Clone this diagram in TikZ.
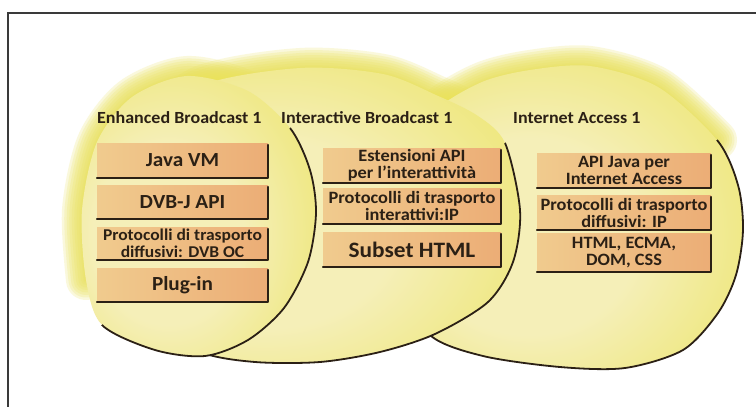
\documentclass[tikz,border=0pt]{standalone}
\usepackage{fontspec}
\setmainfont{Carlito}[FakeStretch=1.06]
\usetikzlibrary{calc}

\definecolor{ink}{HTML}{2B2015}
\definecolor{frameC}{HTML}{3A3A3A}
\definecolor{paleY}{HTML}{F5EFB8}
\definecolor{deepY}{HTML}{EAE257}
\definecolor{glowY}{HTML}{EAE25C}
\definecolor{boxL}{HTML}{F0CB8E}
\definecolor{boxR}{HTML}{ECAD76}

\pgfdeclareradialshading{blobfill}{\pgfpoint{-8bp}{-4bp}}{%
  color(0bp)=(paleY); color(16bp)=(paleY); color(44bp)=(deepY); color(80bp)=(deepY)}

% outlines of the three profile regions (x right, y down, in px)
\def\shapeL{plot[smooth cycle] coordinates {(187,76) (248,91) (290,128) (310,170) (316,213) (308,262) (284,308) (248,340) (205,356) (155,350) (102,325) (86,280) (82,210) (97,142) (132,97)}}
\def\shapeM{plot[smooth cycle] coordinates {(300,68) (383,74) (436,95) (478,116) (505,143) (520,210) (513,262) (488,302) (435,334) (380,352) (320,362) (255,362) (200,352) (140,318) (110,240) (130,140) (200,86)}}
\def\shapeR{plot[smooth cycle] coordinates {(590,66) (658,87) (717,140) (738,185) (743,230) (736,275) (718,313) (683,350) (625,368) (560,367) (483,356) (430,335) (408,285) (402,210) (412,152) (436,110) (482,82) (530,70)}}

% upper-left rims that carry the soft halo
\def\rimL{plot[smooth] coordinates {(86,280) (82,210) (97,142) (132,97) (187,76) (248,91) (290,128)}}
\def\rimM{plot[smooth] coordinates {(130,140) (200,86) (300,68) (383,74) (436,95) (478,116) (505,143)}}
\def\rimR{plot[smooth] coordinates {(402,210) (412,152) (436,110) (482,82) (530,70) (590,66) (658,87) (717,140)}}

\tikzset{
  halo/.style={draw=glowY, line width=#1, line cap=round, line join=round,
    draw opacity=0.21},
  layer/.style={inner sep=0pt, align=center, text=ink, font=\bfseries,
    left color=boxL, right color=boxR},
  rim/.style={draw=ink, line width=1.6pt, line cap=round, line join=round},
  edge/.style={draw=ink, line width=1.8pt, line cap=round},
  title/.style={font=\bfseries\fontsize{17}{17}\selectfont, text=ink,
    inner sep=0pt, anchor=base west},
  big/.style={font=\bfseries\fontsize{20}{20}\selectfont},
  small/.style={font=\bfseries\fontsize{16.5}{16.5}\selectfont},
  wide/.style={font=\bfseries\fontsize{17.3}{17}\selectfont},
}

\begin{document}
\begin{tikzpicture}[x=1pt,y=-1pt]
\useasboundingbox (0,0) rectangle (756,407);
\fill[white] (0,0) rectangle (756,407);

% frame
\draw[frameC, line width=1.5pt] (8,407) -- (8,13) -- (756,13);

% soft halo along the upper-left rims, built from translucent rings
\foreach \w in {40,35,30,25,20,15,10,5,2} {
  \path[halo=\w pt] \rimR;
  \path[halo=\w pt] \rimM;
  \path[halo=\w pt] \rimL;
}

% Internet Access region (back)
\shade[shading=blobfill] \shapeR;
\begin{scope}
  \clip (717,140) -- (770,100) -- (780,420) -- (380,420) -- (430,335) -- cycle;
  \draw[edge] \shapeR;
\end{scope}

% Interactive Broadcast region
\shade[shading=blobfill] \shapeM;
\begin{scope}
  \clip (505,143) -- (560,100) -- (600,420) -- (150,420) -- (200,352) -- cycle;
  \draw[edge] \shapeM;
\end{scope}

% Enhanced Broadcast region (front)
\shade[shading=blobfill] \shapeL;
\begin{scope}
  \clip (290,128) -- (340,80) -- (380,420) -- (40,420) -- (60,350) -- (102,325) -- cycle;
  \draw[edge] \shapeL;
\end{scope}

% titles
\node[title] (tE) at (97,123) {Enhanced Broadcast 1};
\node[title] (tI) at (281,123) {Interactive Broadcast 1};
\node[title] (tA) at (513,123) {Internet Access 1};

% Enhanced Broadcast stack
\node[layer, big, minimum width=171pt, minimum height=35pt] (L1) at (182.5,160.5) {Java VM};
\node[layer, big, minimum width=171pt, minimum height=34pt] (L2) at (182.5,202) {DVB-J API};
\node[layer, small, minimum width=171pt, minimum height=33pt] (L3) at (182.5,243.5) {Protocolli di trasporto\\diffusivi: DVB OC};
\node[layer, big, minimum width=171pt, minimum height=34pt] (L4) at (182.5,285) {Plug-in};

% Interactive Broadcast stack
\node[layer, wide, minimum width=178pt, minimum height=35pt] (M1) at (412,165.5) {Estensioni API\\per l'interattività};
\node[layer, wide, minimum width=178pt, minimum height=36pt] (M2) at (412,206) {Protocolli di trasporto\\interattivi:IP};
\node[layer, font=\bfseries\fontsize{22}{22}\selectfont, minimum width=178pt, minimum height=35pt] (M3) at (412,249.5) {Subset HTML};

% Internet Access stack
\node[layer, wide, minimum width=174pt, minimum height=35pt] (R1) at (624,170.5) {API Java per\\Internet Access};
\node[layer, wide, minimum width=174pt, minimum height=35pt] (R2) at (624,212.5) {Protocolli di trasporto\\diffusivi: IP};
\node[layer, wide, minimum width=174pt, minimum height=39pt] (R3) at (624,252.5) {HTML, ECMA,\\DOM, CSS};

% shadow rims on the right and bottom of each layer
\foreach \b in {L1,L2,L3,L4,M1,M2,M3,R1,R2,R3}
  \draw[rim] ([yshift=-2pt]\b.north east) -- (\b.south east) -- (\b.south west);
\end{tikzpicture}
\end{document}
